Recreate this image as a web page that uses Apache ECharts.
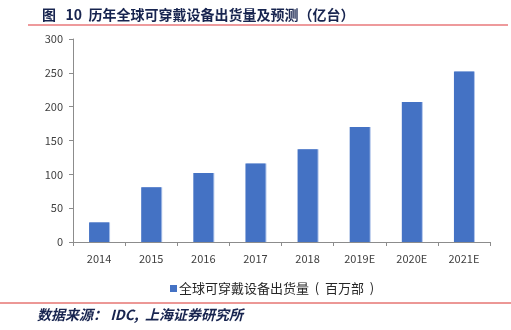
<!DOCTYPE html>
<html>
<head>
<meta charset="utf-8">
<script src="https://cdn.jsdelivr.net/npm/echarts@6/dist/echarts.min.js"></script>
<style>
  html, body { margin: 0; padding: 0; background: #fff; }
  #chart { width: 511px; height: 330px; }
</style>
</head>
<body>
<div id="chart"></div>
<script>
// Annual global wearable shipments, with forecasts for 2019-2021
const years = ['2014', '2015', '2016', '2017', '2018', '2019E', '2020E', '2021E'];
const shipments = [29, 81, 102, 116, 137, 170, 207, 252];
const yTicks = { min: 0, max: 300, interval: 50 };
const seriesName = '全球可穿戴设备出货量  (  百万部  )';

const FONT = '"Noto Sans CJK SC", "Noto Sans", sans-serif';
const chart = echarts.init(document.getElementById('chart'), null, { renderer: 'canvas' });

chart.setOption({
  animation: false,
  backgroundColor: '#ffffff',
  title: {
    text: '图   10  历年全球可穿戴设备出货量及预测（亿台）',
    left: 37, top: 3,
    textStyle: { fontFamily: FONT, fontSize: 14, fontWeight: 'bold', color: '#17244f' }
  },
  graphic: [
    { type: 'line', shape: { x1: 28, y1: 25, x2: 508, y2: 25 }, style: { stroke: '#e8797b', lineWidth: 1.5 } },
    { type: 'line', shape: { x1: 0, y1: 303, x2: 511, y2: 303 }, style: { stroke: '#d9302c', lineWidth: 1 } },
    {
      type: 'text', left: 37, top: 308,
      style: {
        text: '数据来源： IDC,  上海证券研究所',
        font: 'italic bold 14px ' + FONT,
        fill: '#17244f'
      }
    }
  ],
  legend: {
    data: [seriesName],
    left: 165, top: 277,
    itemWidth: 7, itemHeight: 7, icon: 'rect',
    textStyle: { fontFamily: FONT, fontSize: 13, color: '#262626', padding: [0, 0, 0, -3] }
  },
  grid: { left: 73, right: 21, top: 39, bottom: 88, containLabel: false },
  xAxis: {
    type: 'category',
    data: years,
    axisLine: { lineStyle: { color: '#8c8c8c', width: 1 } },
    axisTick: { show: true, length: 4, lineStyle: { color: '#8c8c8c' } },
    axisLabel: { fontFamily: FONT, fontSize: 11, color: '#404040', margin: 11 }
  },
  yAxis: {
    type: 'value',
    min: yTicks.min, max: yTicks.max, interval: yTicks.interval,
    axisLine: { show: true, lineStyle: { color: '#8c8c8c', width: 1 } },
    axisTick: { show: true, length: 4, lineStyle: { color: '#8c8c8c' } },
    splitLine: { show: false },
    axisLabel: { fontFamily: FONT, fontSize: 11, color: '#404040', margin: 10 }
  },
  series: [{
    name: seriesName,
    type: 'bar',
    data: shipments,
    barWidth: 20,
    itemStyle: {
      color: '#4472c4',
      shadowColor: 'rgba(160,185,230,0.9)',
      shadowOffsetX: 1,
      shadowOffsetY: 0,
      shadowBlur: 0
    }
  }]
});
</script>
</body>
</html>
